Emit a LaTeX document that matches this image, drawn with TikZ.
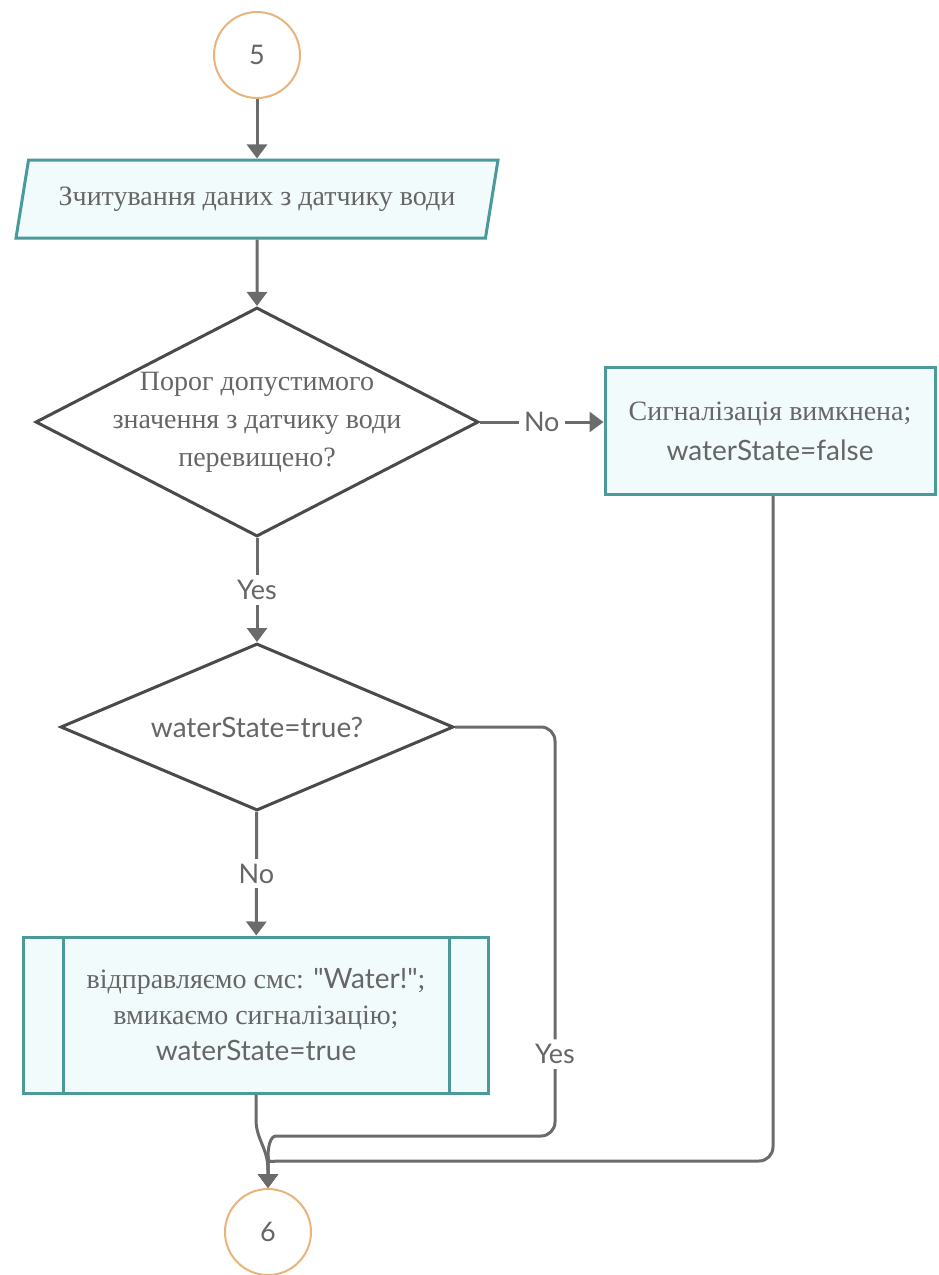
\documentclass[tikz,border=0pt]{standalone}
\usepackage{fontspec}
\setmainfont{Liberation Serif}
\newfontfamily\lato{Lato}
\usetikzlibrary{arrows.meta,shapes.geometric,calc}
\definecolor{flowteal}{HTML}{4A9A9A}
\definecolor{flowfill}{HTML}{F2FBFC}
\definecolor{flowtan}{HTML}{E8B47C}
\definecolor{flowgray}{HTML}{6B6B6B}
\definecolor{flowdark}{HTML}{4A4A4A}
\definecolor{flowtext}{HTML}{666666}
\newcommand{\code}[1]{{\lato\fontsize{28}{\the\baselineskip}\selectfont #1}}

\begin{document}
\begin{tikzpicture}[x=1pt,y=-1pt,
  serif/.style={text=flowtext,align=center,font=\fontsize{28}{38}\selectfont},
  connector/.style={circle,draw=flowtan,line width=2pt,fill=white,minimum size=86pt,inner sep=0pt,text=flowtext,font=\lato\fontsize{27}{30}\selectfont},
  iobox/.style={trapezium,trapezium left angle=63,trapezium right angle=117,trapezium stretches body,draw=flowteal,fill=flowfill,line width=3pt,minimum width=482pt,minimum height=78pt,inner sep=0pt},
  decision/.style={diamond,draw=flowdark,fill=white,line width=3pt,inner sep=0pt,aspect=1.9},
  procbox/.style={rectangle,draw=flowteal,fill=flowfill,line width=3pt,inner sep=0pt},
  flow/.style={draw=flowgray,line width=3pt,-{Triangle[width=20pt,length=14pt]}},
  lbl/.style={fill=white,text=flowtext,font=\lato\fontsize{27}{30}\selectfont,inner sep=5pt}
]
  \useasboundingbox (0,0) rectangle (938,1275);
  % nodes, top to bottom
  \node[connector] (c5) at (257,55) {5};
  \node[iobox,serif] (inp) at (257,199) {Зчитування даних з датчику води};
  \node[decision,minimum width=443pt,minimum height=229pt,
    label={[serif]center:Порог допустимого\\значення з датчику води\\перевищено?}] (d1) at (257,422) {};
  \node[procbox,serif,minimum width=330pt,minimum height=127pt,font=\fontsize{28}{40}\selectfont] (off) at (770,431)
    {Сигналізація вимкнена;\\\code{waterState=false}};
  \node[decision,serif,minimum width=393pt,minimum height=167pt] (d2) at (257,727)
    {\code{waterState=true?}};
  \node[procbox,serif,minimum width=465pt,minimum height=156pt,font=\fontsize{28}{36}\selectfont] (sub) at (256,1015)
    {відправляємо смс: \code{"Water!"};\\вмикаємо сигналізацію;\\\code{waterState=true}};
  \draw[flowteal,line width=3pt] ([xshift=41pt]sub.north west) -- ([xshift=41pt]sub.south west);
  \draw[flowteal,line width=3pt] ([xshift=-41pt]sub.north east) -- ([xshift=-41pt]sub.south east);
  \node[connector] (c6) at (268,1232) {6};

  % turning points
  \coordinate (yesturn) at (555,1136);
  \coordinate (falseturn) at (773,1161);
  \coordinate (merge) at (268,1170);

  % connectors
  \draw[flow] (c5) -- (inp);
  \draw[flow] (inp) -- (d1);
  \draw[flow] (d1.east) -- node[lbl]{No} (d1.east -| off.west);
  \draw[flow] (d1) -- node[lbl]{Yes} (d2);
  \draw[flow] (d2) -- node[lbl]{No} (sub);
  \draw[flow,rounded corners=14pt] (d2.east) -| node[lbl,pos=0.9]{Yes} (yesturn) -- (290,1136)
    .. controls (270,1136) and (268,1148) .. (merge) -- (c6.north);
  \draw[flow,rounded corners=14pt] (off.south -| falseturn) -- (falseturn) -- (292,1161)
    .. controls (271,1161) and (268,1164) .. (merge) -- (c6.north);
  \draw[flow] (sub.south) -- ++(0,25) .. controls +(0,20) and +(0,-22) .. (merge) -- (c6.north);
\end{tikzpicture}
\end{document}
